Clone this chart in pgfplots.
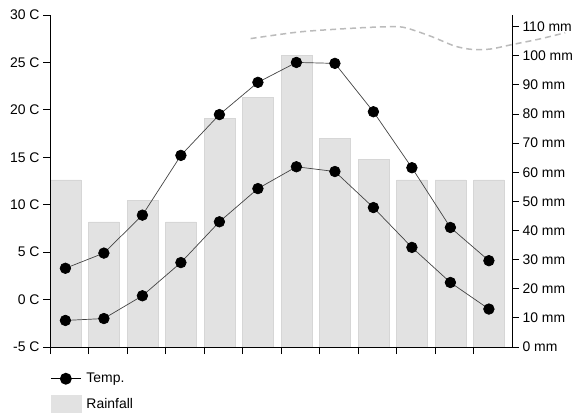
\documentclass[border=0pt]{standalone}
\usepackage{fontspec}
\setmainfont{Liberation Sans}
\usepackage{pgfplots}
\pgfplotsset{compat=1.18}
\definecolor{bargray}{HTML}{E2E2E2}
\definecolor{baredge}{HTML}{D6D6D6}
\definecolor{linegray}{HTML}{444444}
\definecolor{dashgray}{HTML}{BBBBBB}
\begin{document}
\begin{tikzpicture}[font=\fontsize{14}{16}\selectfont]
\pgfplotsset{
  common/.style={
    scale only axis, width=462bp, height=332bp,
    xmin=0, xmax=12,
    axis line style={black, line width=0.9bp},
    tick style={black, line width=0.9bp},
    major tick length=7bp,
    tick align=outside,
    tick label style={font=\fontsize{14}{16}\selectfont},
    /pgf/number format/assume math mode=true,
  }
}
% right axis: rainfall
\begin{axis}[common,
  axis x line=none, axis y line*=right,
  ymin=0, ymax=114,
  ytick={0,10,...,110},
  yticklabel={\pgfmathprintnumber{\tick} mm},
  clip=false,
]
\addplot[ybar, bar width=0.8, bar shift=0pt, fill=bargray, draw=baredge, line width=0.5bp] coordinates {
(0.4,57.4) (1.4,43.0) (2.4,50.4) (3.4,43.0) (4.4,78.6) (5.4,85.8)
(6.4,100.1) (7.4,71.6) (8.4,64.5) (9.4,57.4) (10.4,57.4) (11.4,57.4)};
\addplot[dashgray, dash pattern=on 6bp off 4bp, line width=1.5bp, smooth] coordinates {
(5.21,105.9) (6.49,108.2) (7.79,109.4) (8.6,109.9) (9.17,109.8) (9.87,106.8) (10.5,103.4) (10.95,102.2) (11.43,102.3) (11.95,103.7) (12.73,105.8) (13.38,107.9)};
\end{axis}
% left axis: temperature
\begin{axis}[common,
  axis x line*=bottom, axis y line*=left,
  ymin=-5, ymax=30, ytick={-5,0,5,10,15,20,25,30},
  yticklabels={-5 C,0 C,5 C,10 C,15 C,20 C,25 C,30 C},
  xtick={0,1,...,11}, xticklabels={},
  legend cell align=left,
  legend style={at={(rel axis cs:0,0)}, anchor=north west, yshift=-24bp,
    draw=none, fill=none, inner sep=0pt, row sep=9bp,
    nodes={inner sep=2bp}, font=\fontsize{14}{16}\selectfont,
    /tikz/every odd column/.style={column sep=3bp}},
]
\coordinate (ll) at (rel axis cs:0,0);
\addplot[linegray, line width=0.7bp, mark=*, mark size=5.3bp, mark options={fill=black, draw=black},
  legend image code/.code={\draw[black, line width=1.3bp, mark repeat=2, mark phase=2] plot coordinates {(0bp,0bp) (15bp,0bp) (30bp,0bp)};}] coordinates {
(0.4,3.3) (1.4,4.9) (2.4,8.9) (3.4,15.2) (4.4,19.5) (5.4,22.9)
(6.4,25.0) (7.4,24.9) (8.4,19.8) (9.4,13.9) (10.4,7.6) (11.4,4.1)};
\addlegendentry{Temp.}
\addplot[linegray, line width=0.7bp, mark=*, mark size=5.3bp, mark options={fill=black, draw=black}, forget plot] coordinates {
(0.4,-2.2) (1.4,-2.0) (2.4,0.4) (3.4,3.9) (4.4,8.2) (5.4,11.7)
(6.4,14.0) (7.4,13.5) (8.4,9.7) (9.4,5.5) (10.4,1.8) (11.4,-1.0)};
\addlegendimage{legend image code/.code={\fill[bargray] (0bp,-8.5bp) rectangle (30bp,8.5bp);}}
\addlegendentry{Rainfall}
\end{axis}
\pgfresetboundingbox
\path[use as bounding box] (ll) ++(-50bp,-70bp) rectangle ++(577bp,417bp);
\end{tikzpicture}
\end{document}
